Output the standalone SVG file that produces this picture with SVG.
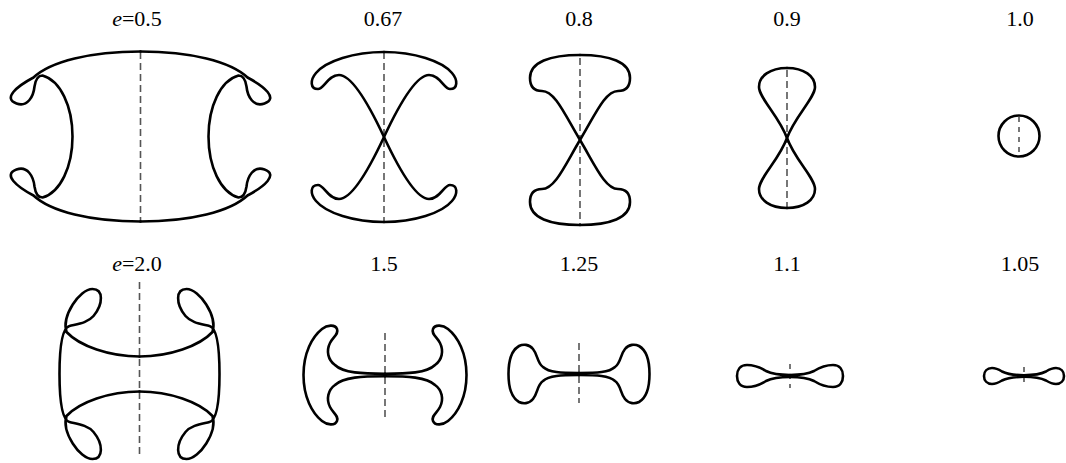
<svg xmlns="http://www.w3.org/2000/svg" xmlns:xlink="http://www.w3.org/1999/xlink" width="1066" height="463" viewBox="0 0 1066 463">
<style>
.c{fill:none;stroke:#000;stroke-width:2.6;stroke-linejoin:round;stroke-linecap:round}
.d{fill:none;stroke:#555;stroke-width:1.6;stroke-dasharray:7 4}
.ds{fill:none;stroke:#555;stroke-width:1.6;stroke-dasharray:5 5}
.t{font-family:"Liberation Serif","Times New Roman",serif;font-size:22px;fill:#000;text-anchor:middle}
.i{font-style:italic}
</style>
<rect width="1066" height="463" fill="#fff"/>
<g id="labels">
<text class="t" x="137" y="26"><tspan class="i">e</tspan>=0.5</text>
<text class="t" x="383" y="26">0.67</text>
<text class="t" x="579" y="26">0.8</text>
<text class="t" x="787" y="26">0.9</text>
<text class="t" x="1020" y="26">1.0</text>
<text class="t" x="137" y="271"><tspan class="i">e</tspan>=2.0</text>
<text class="t" x="384" y="271">1.5</text>
<text class="t" x="579" y="271">1.25</text>
<text class="t" x="787" y="271">1.1</text>
<text class="t" x="1020" y="271">1.05</text>
</g>
<g id="axes">
<line class="d" x1="140.5" y1="52" x2="140.5" y2="222"/>
<line class="d" x1="384" y1="52" x2="384" y2="222"/>
<line class="d" x1="580" y1="58" x2="580" y2="225"/>
<line class="d" x1="787" y1="70" x2="787" y2="208"/>
<line class="ds" x1="1019" y1="117" x2="1019" y2="155"/>
<line class="d" x1="139.5" y1="282" x2="139.5" y2="458"/>
<line class="d" x1="385" y1="333" x2="385" y2="420"/>
<line class="d" x1="579" y1="343" x2="579" y2="403"/>
<line class="ds" x1="790" y1="364" x2="790" y2="388"/>
<line class="ds" x1="1024" y1="367" x2="1024" y2="387"/>
</g>
<g id="n-e05" transform="translate(140.5,136.5)">
<path id="p1" class="c" d="M0,-85 C-50,-85 -90,-75 -107,-59 C-124,-50 -138,-38 -124,-33 C-113,-29 -107,-40 -106,-50 C-105,-57 -103,-61 -98,-61 C-80,-56 -68,-30 -68,0 C-68,30 -80,56 -98,61 C-103,61 -105,57 -106,50 C-107,40 -113,29 -124,33 C-138,38 -124,50 -107,59 C-90,75 -50,85 0,85"/>
<use xlink:href="#p1" href="#p1" transform="scale(-1,1)"/>
</g>
<g id="n-e067" transform="translate(384,137)">
<path id="p2" class="c" d="M0,-85 C-30,-85 -58,-76 -68,-64 C-74,-57 -74,-48 -66,-48 C-60,-48 -56,-62 -45,-62 C-32,-62 -14,-30 0,0 C14,30 32,62 45,62 C56,62 60,48 66,48 C74,48 74,57 68,64 C58,76 30,85 0,85"/>
<use xlink:href="#p2" href="#p2" transform="scale(-1,1)"/>
</g>
<g id="n-e08" transform="translate(580,140)">
<path id="p3" class="c" d="M0,-85 C-30,-85 -50,-78 -50,-62 C-50,-53 -46,-49 -38,-49 C-25,-49 -15,-25 0,0 C15,25 25,49 38,49 C46,49 50,53 50,62 C50,78 30,85 0,85"/>
<use xlink:href="#p3" href="#p3" transform="scale(-1,1)"/>
</g>
<g id="n-e09" transform="translate(787,138)">
<path id="p4" class="c" d="M0,-70 C-17,-70 -28,-62 -28,-51 C-28,-40 -8,-22 0,0 C8,22 28,40 28,51 C28,62 17,70 0,70"/>
<use xlink:href="#p4" href="#p4" transform="scale(-1,1)"/>
</g>
<g id="n-e10">
<circle class="c" cx="1019" cy="136" r="20.5"/>
</g>
<g id="n-e20" transform="translate(139.5,374)">
<path id="p6" class="c" d="M0,-17.5 C-30,-17.5 -60,-28 -73,-42 C-78,-58 -60,-85 -47,-85 C-36,-85 -36,-70 -46,-58 C-52,-51 -62,-50 -70,-48 C-78,-46 -80,-25 -80,0 C-80,25 -78,46 -70,48 C-62,50 -52,51 -46,58 C-36,70 -36,85 -47,85 C-60,85 -78,58 -73,42 C-60,28 -30,17.5 0,17.5"/>
<use xlink:href="#p6" href="#p6" transform="scale(-1,1)"/>
</g>
<g id="n-e15" transform="translate(385,375)">
<path id="p7" class="c" d="M0,-1.2 C-22,-1.2 -42,-2 -50,-10 C-57,-15 -59,-24 -55,-32 C-52,-38 -46,-41 -48,-46 C-50,-51 -58,-50 -63,-46 C-73,-38 -81.5,-22 -81.5,0 C-81.5,22 -73,38 -63,46 C-58,50 -50,51 -48,46 C-46,41 -52,38 -55,32 C-59,24 -57,15 -50,10 C-42,2 -22,1.2 0,1.2"/>
<use xlink:href="#p7" href="#p7" transform="scale(-1,1)"/>
</g>
<g id="n-e125" transform="translate(579,374)">
<path id="p8" class="c" d="M0,-1 C-18,-1 -30,-1.5 -36,-7 C-42,-11 -41,-19 -46,-25 C-50,-30 -56,-30 -60,-28 C-67,-24 -70.5,-13 -70.5,0 C-70.5,13 -67,24 -60,28 C-56,30 -50,30 -46,25 C-41,19 -42,11 -36,7 C-30,1.5 -18,1 0,1"/>
<use xlink:href="#p8" href="#p8" transform="scale(-1,1)"/>
</g>
<g id="n-e11" transform="translate(790,376)">
<path id="p9" class="c" d="M0,-1 C-12,-1 -18,-2 -24,-5 C-32,-10 -38,-11 -43,-11 C-50,-11 -53,-6 -53,0 C-53,6 -50,11 -43,11 C-38,11 -32,10 -24,5 C-18,2 -12,1 0,1"/>
<use xlink:href="#p9" href="#p9" transform="scale(-1,1)"/>
</g>
<g id="n-e105" transform="translate(1024,376)">
<path id="p10" class="c" d="M0,-0.8 C-10,-0.8 -16,-1.5 -22,-4.5 C-26,-7 -29,-8 -32,-8 C-37,-8 -40,-4.5 -40,0 C-40,4.5 -37,8 -32,8 C-29,8 -26,7 -22,4.5 C-16,1.5 -10,0.8 0,0.8"/>
<use xlink:href="#p10" href="#p10" transform="scale(-1,1)"/>
</g>
</svg>
